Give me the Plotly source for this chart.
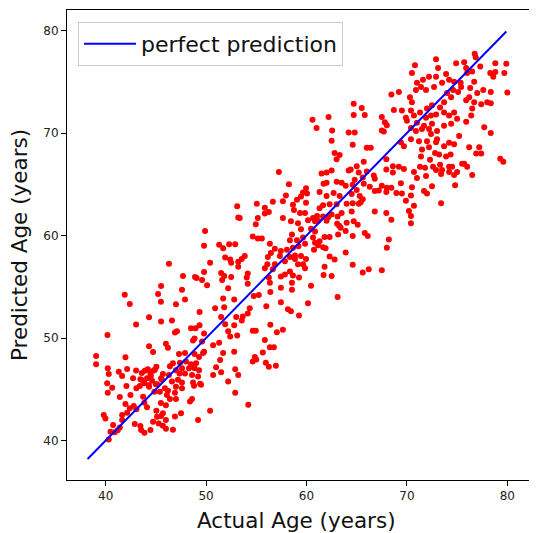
import plotly.graph_objects as go

# ---- data (actual age, predicted age) ----
actual_a = [45.52,45.22,41.90,42.40,44.32,45.52,43.03,40.18,44.32,44.72,39.05,41.97,39.05,40.21,40.31,41.31,41.64,42.14,43.03,42.73,
            43.46,43.40,43.06,40.15,40.65,40.21,41.41,42.07,42.47,44.19,44.46,44.79,45.05,44.12,44.62,43.86,45.12,45.52,44.32,44.85,
            43.73,43.86,44.12,41.97,42.40,42.80,39.81,39.98,41.64,41.64,42.14,43.06,42.90,43.46,43.86,43.53,40.74,40.48,40.31,41.41,
            45.05,45.52,45.12,44.72,45.28,44.46,
            41.2,40.9,43.9,44.2,44.5,43.6,44.9,45.0,43.6,44.3]
predicted_a = [55.08,54.30,54.21,53.33,52.02,51.60,51.31,50.30,49.19,48.64,48.25,48.12,47.43,47.04,46.49,46.72,46.30,46.98,46.82,46.07,
               45.97,45.32,45.09,45.58,45.16,44.67,44.25,45.32,44.44,46.95,46.49,46.82,47.21,46.07,45.84,45.58,45.48,46.07,45.25,44.75,
               44.28,43.69,43.24,43.56,43.14,43.37,42.49,42.16,42.49,42.00,42.71,43.04,41.61,41.42,40.76,41.02,41.51,40.86,40.11,41.28,
               42.91,42.39,42.33,41.84,41.67,41.02,
               41.0,40.8,46.8,46.9,46.3,46.6,46.9,45.5,45.9,45.4]

actual_b = [53.1,53.2,49.9,49.8,51.3,51.7,52.3,52.9,51.9,52.4,52.5,53.2,53.2,50.4,46.3,49.8,51.5,51.8,52.5,51.6,
            47.7,48.9,49.05,49.6,50.1,52.2,47.6,47.9,51.7,52.8,45.5,47.0,50.9,51.8,49.35,46.6,51.5,51.9,52.8,53.0,
            48.5,48.95,49.35,46.9,47.1,49.8,48.85,48.7,49.6,52.2,52.4,53.1,46.0,46.2,50.7,51.3,49.8,51.7,52.8,47.3,
            47.9,48.85,49.3,49.7,46.7,47.4,48.0,48.5,49.0,46.4,47.0,47.6,48.3,48.85,49.3,51.4,51.0,50.7,51.5,52.9,
            53.2,45.7,46.3,47.36,47.9,48.6,49.2,45.6,46.6,47.2,47.6,48.7,49.4,52.2,45.9,47.0,47.6,48.8,49.5,45.4,
            46.2,46.9,46.1,47.0,46.4,48.6,48.4,52.9,45.5,46.0,47.5,46.9,45.7,46.0,45.7,46.0,46.7,50.4,49.2]
predicted_b = [62.85,61.75,60.45,59.0,59.1,58.75,59.15,59.15,57.85,57.65,57.35,57.45,56.95,57.35,57.25,56.45,56.35,56.05,55.95,55.65,
               56.05,55.95,55.85,55.65,55.15,54.85,54.7,53.75,53.85,53.75,53.55,53.3,52.91,53.01,52.55,51.71,52.05,51.35,51.25,52.05,
               50.95,50.95,51.25,50.55,50.65,50.45,49.95,49.75,49.65,50.65,50.15,50.25,49.45,49.05,49.3,49.55,48.65,48.55,48.65,48.45,
               48.55,48.45,48.15,48.55,47.55,47.6,47.7,47.45,47.55,47.25,46.85,47.05,47.05,47.05,46.85,47.85,47.15,46.4,46.65,46.95,
               46.4,46.5,46.4,46.55,46.55,46.4,46.25,45.92,45.75,45.92,45.65,45.65,45.55,45.75,45.1,45.25,45.1,45.35,45.45,44.75,
               44.85,44.65,44.45,44.05,44.05,44.05,43.8,44.65,43.65,43.45,42.65,42.35,42.65,42.0,41.45,41.15,41.05,42.9,42.0]

actual_c = [57.25,58.25,59.95,59.65,60.05,57.95,59.45,59.05,57.65,56.65,55.05,58.65,59.95,55.85,56.25,55.85,58.75,59.35,59.85,55.15,
            57.65,58.45,59.15,60.15,60.65,60.85,61.05,54.95,53.35,59.45,60.45,60.85,58.55,54.65,55.15,55.55,58.35,59.05,59.65,60.65,
            60.85,56.35,56.85,57.45,58.05,58.65,59.2,59.85,60.75,53.85,53.55,56.15,56.45,57.35,58.35,58.85,59.45,58.85,59.95,56.1,
            55.85,56.85,57.85,59.15,59.65,59.85,58.35,54.15,54.05,56.65,57.45,57.85,58.65,59.25,56.25,56.35,54.15,57.45,58.55,58.55,
            60.45,56.4,54.75,55.25,57.45,60.15,56.0,54.35,58.15,58.45,59.25,53.65,54.15,53.55,56.4,54.65,54.95,57.05,57.65,55.85,
            56.35,56.75,55.65,54.85,54.65,55.0,55.95,56.25,56.95,54.2,60.6,61.0]
predicted_c = [66.2,65.0,64.6,64.2,64.1,63.9,63.8,63.5,63.35,63.3,63.1,63.0,63.2,62.7,62.3,62.15,62.5,62.2,62.2,61.7,
               61.7,61.4,61.2,61.5,61.7,61.4,61.9,61.1,61.7,60.6,60.65,60.4,60.1,59.9,59.7,59.7,59.55,59.55,59.8,59.8,
               59.3,59.2,58.7,58.5,58.6,58.8,58.95,59.2,58.6,58.0,57.7,57.9,58.3,58.0,57.9,58.05,58.0,57.7,57.7,57.2,
               56.8,57.2,57.5,57.2,57.2,56.8,56.5,56.3,55.9,56.7,56.0,56.2,56.1,55.9,55.9,55.4,55.3,54.9,55.4,54.7,
               55.1,54.5,54.1,54.2,53.5,53.4,53.1,52.9,52.8,52.6,52.2,52.1,52.4,51.7,51.3,50.7,50.7,50.56,50.8,49.8,
               49.1,49.1,48.6,48.15,47.7,47.9,47.6,47.2,47.3,43.5,71.3,70.5]

actual_d = [68.45,64.7,65.5,68.7,62.2,64.7,65.8,67.5,67.8,68.0,67.5,67.7,62.55,64.2,64.8,62.5,64.6,66.0,66.4,62.8,
            63.3,63.0,65.7,67.95,68.6,65.0,62.5,61.5,62.0,64.2,64.4,65.2,66.0,66.7,66.8,67.95,68.6,64.8,65.6,63.0,
            63.5,61.7,62.0,63.9,64.6,65.7,66.3,67.5,68.0,68.45,67.2,66.8,65.0,61.3,62.0,62.7,63.3,64.5,65.3,67.95,
            68.95,64.6,65.4,65.6,61.65,62.3,63.0,61.3,64.0,63.5,64.5,65.2,66.8,67.95,68.45,61.65,62.15,62.5,63.1,61.15,
            62.0,63.05,63.25,63.4,64.0,64.7,65.1,63.9,63.15,62.3,61.8,64.6,65.8,66.1,61.3,61.15,61.65,61.9,62.3,62.8,
            63.9,64.6,68.2,68.0,65.6,66.2,67.5,61.8,62.5,61.7,63.1,
            69.2,69.5,69.9,69.4,69.7,69.2,69.7,69.4,69.5,69.9]
predicted_d = [73.75,72.85,72.45,72.25,71.55,71.75,71.75,71.55,71.05,70.75,70.25,70.15,70.25,70.05,70.05,69.25,68.85,68.55,68.55,68.05,
               67.85,67.45,67.2,67.45,66.75,66.75,66.35,66.05,66.15,66.35,66.45,66.15,66.25,65.85,65.55,66.45,66.15,65.45,65.65,65.25,
               65.15,65.05,65.15,64.85,64.95,65.05,64.75,64.85,64.65,64.65,64.4,64.35,64.45,64.25,63.85,64.15,63.85,64.05,63.85,64.25,
               64.15,63.15,63.25,63.55,62.95,63.05,63.05,62.65,63.1,62.2,62.35,63.1,62.35,62.2,61.55,61.85,61.75,62.05,61.85,61.45,
               61.45,61.15,60.95,60.75,61.25,61.4,61.05,60.45,60.1,59.85,59.85,59.95,60.25,59.95,59.45,59.05,58.85,58.75,57.95,57.65,
               58.35,57.15,59.6,58.8,56.4,56.7,56.6,56.95,56.05,56.15,54.0,
               74.0,72.2,71.5,69.1,68.7,66.7,66.5,65.1,64.1,63.4]

actual_e = [76.75,76.85,75.7,74.9,75.9,70.8,70.5,72.9,73.9,73.1,72.9,72.2,71.6,71.0,71.4,70.9,71.9,72.7,73.5,74.2,
            74.7,75.35,76.0,76.5,77.3,78.3,78.8,78.6,79.7,79.9,78.8,80.0,78.35,77.6,76.7,76.3,77.0,76.2,75.9,76.7,
            77.4,78.0,78.35,76.5,76.4,75.9,77.7,78.35,75.4,75.1,74.6,74.0,74.4,73.7,73.3,73.7,74.2,74.7,75.0,74.4,
            73.7,73.0,72.4,71.5,70.9,70.4,71.0,71.9,72.4,72.9,72.5,71.7,72.2,72.5,72.0,71.3,70.7,70.4,70.5,70.3,
            70.0,70.4,71.2,72.0,73.0,73.7,74.2,74.7,75.2,76.2,74.35,73.9,72.8,71.5,71.4,72.3,72.6,73.3,74.2,73.5,
            74.2,74.5,75.0,75.5,74.7,73.4,72.9,71.8,71.3,70.7,71.0,71.9,72.5,71.7,72.0,70.5,70.4,70.7,70.2,70.4,
            70.4,74.8,73.4,76.0,76.5,75.7,76.9,77.2,77.4,79.3,79.6,72.9,72.2,73.2]
predicted_e = [77.74,77.4,76.9,76.8,76.35,76.6,75.85,77.2,75.75,76.35,75.5,75.5,75.2,74.9,74.5,74.2,74.2,74.5,74.9,75.2,
               75.0,74.9,75.85,76.0,76.5,75.85,75.95,75.5,75.85,76.75,76.8,73.95,74.0,74.2,75.0,74.4,73.9,73.5,73.2,73.0,
               72.8,73.0,72.9,72.4,71.7,71.1,70.55,70.0,74.5,74.0,74.2,73.9,73.5,73.0,72.5,72.0,71.7,72.0,71.4,70.9,
               70.7,70.2,69.9,70.4,70.2,70.5,71.0,71.5,71.7,71.8,70.9,70.7,70.4,72.7,72.4,72.0,71.7,72.2,73.0,73.5,
               71.2,69.4,69.2,69.2,69.4,68.7,69.05,68.9,69.7,68.6,67.9,67.7,68.05,68.4,67.7,67.4,66.7,66.9,66.7,66.4,
               66.2,66.7,66.2,67.0,65.9,66.0,66.4,66.6,66.7,66.2,65.6,65.8,64.8,64.35,64.1,64.7,63.9,62.9,62.4,61.9,
               61.2,64.9,63.15,66.7,65.9,67.0,68.0,68.6,68.0,67.5,67.2,69.1,68.6,67.9]

actual_age = actual_a + actual_b + actual_c + actual_d + actual_e
predicted_age = predicted_a + predicted_b + predicted_c + predicted_d + predicted_e

line_x = [38.2, 79.9]
line_y = [38.2, 79.9]

x_ticks = [40, 50, 60, 70, 80]
y_ticks = [40, 50, 60, 70, 80]

FONT = "DejaVu Sans"

fig = go.Figure()
fig.add_trace(go.Scatter(
    x=actual_age, y=predicted_age, mode="markers",
    marker=dict(color="#ff0000", size=6, line=dict(width=0)),
    showlegend=False, hoverinfo="skip"))
fig.add_trace(go.Scatter(
    x=line_x, y=line_y, mode="lines",
    line=dict(color="#0000ff", width=2),
    name="perfect prediction"))

axis_common = dict(
    showgrid=False, zeroline=False, showline=True, linecolor="black", linewidth=1,
    mirror=True, ticks="outside", ticklen=5, tickwidth=1, tickcolor="black",
    tickfont=dict(family=FONT, size=12, color="#222222"), automargin=False,
)
# the axes box runs past the right edge of the cropped picture (no right spine visible)
fig.update_xaxes(range=[36.15, 83.75], tickvals=x_ticks, **axis_common)
fig.update_yaxes(range=[36.15, 82.0], tickvals=y_ticks, **axis_common)

fig.add_annotation(text="Actual Age (years)", xref="paper", yref="paper", x=0.481, y=0,
                   xanchor="center", yanchor="middle", yshift=-40, showarrow=False,
                   font=dict(family=FONT, size=21.5, color="#111111"))
fig.add_annotation(text="Predicted Age (years)", xref="paper", yref="paper", x=0, y=0.5,
                   xanchor="center", yanchor="middle", xshift=-48, textangle=-90, showarrow=False,
                   font=dict(family=FONT, size=21.5, color="#111111"))

# the page adds an 8px body margin, so the figure margins are offset by 8px
fig.update_layout(
    width=537, height=533,
    margin=dict(l=59, r=0, t=2, b=61, autoexpand=False),
    plot_bgcolor="white", paper_bgcolor="white",
    font=dict(family=FONT),
    legend=dict(x=0.023, y=0.9745, xanchor="left", yanchor="top",
                font=dict(family=FONT, size=22, color="#111111"),
                bgcolor="rgba(255,255,255,0.8)", bordercolor="#cccccc", borderwidth=1,
                itemwidth=52),
)

fig.write_html("out.html")
